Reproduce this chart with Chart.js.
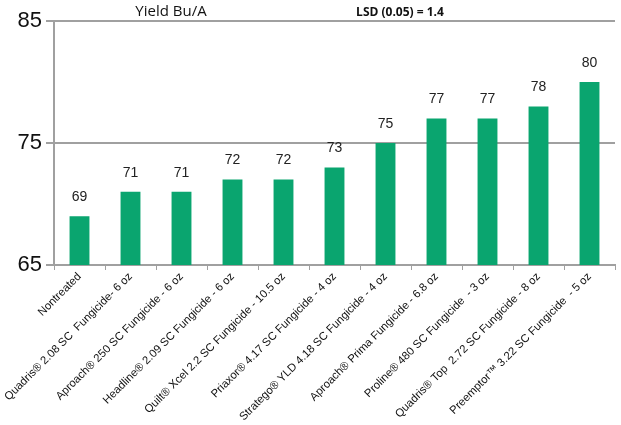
<!DOCTYPE html>
<html><head><meta charset="utf-8">
<script src="https://cdn.jsdelivr.net/npm/chart.js@4.4.0/dist/chart.umd.min.js"></script>
<style>html,body{margin:0;padding:0;background:#fff}#wrap{width:621px;height:425px}</style>
</head><body><div id="wrap"><canvas id="c"></canvas></div>
<script>
const categories = ["Nontreated","Quadris® 2.08 SC  Fungicide- 6 oz","Aproach® 250 SC Fungicide - 6 oz","Headline® 2.09 SC Fungicide - 6 oz","Quilt® Xcel 2.2 SC Fungicide - 10.5 oz","Priaxor® 4.17 SC Fungicide - 4 oz","Stratego® YLD 4.18 SC Fungicide - 4 oz","Aproach® Prima Fungicide - 6.8 oz","Proline® 480 SC Fungicide  - 3 oz","Quadris® Top  2.72 SC Fungicide - 8 oz","Preemptor™ 3.22 SC Fungicide  - 5 oz"];
const yieldValues = [69,71,71,72,72,73,75,77,77,78,80];
const yTicks = [65,75,85];
const titleText = "Yield Bu/A";
const lsdText = "LSD (0.05) = 1.4";

const labelPlugin = {
  id:'labels',
  afterDatasetsDraw(chart){
    const ctx = chart.ctx;
    const meta = chart.getDatasetMeta(0);
    ctx.save();
    ctx.font = '14px "Liberation Sans", sans-serif';
    ctx.fillStyle = '#222';
    ctx.textAlign = 'center';
    ctx.textBaseline = 'middle';
    meta.data.forEach((el,i)=>{
      ctx.fillText(String(yieldValues[i]), el.x, el.y - 19);
    });
    ctx.font = '15px "Open Sans", sans-serif';
    ctx.fillStyle = '#111';
    ctx.fillText(titleText, 171, 12);
    ctx.font = 'bold 12px "Open Sans", sans-serif';
    ctx.fillText(lsdText, 400, 13);
    ctx.restore();
  }
};

new Chart(document.getElementById('c'), {
  type:'bar',
  data:{labels:categories, datasets:[{data:yieldValues, backgroundColor:'#0aa56f', barPercentage:0.78, categoryPercentage:0.5}]},
  options:{
    responsive:true, maintainAspectRatio:false, animation:false,
    layout:{padding:{top:21,right:6,left:0,bottom:0}},
    plugins:{legend:{display:false}, tooltip:{enabled:false}},
    scales:{
      x:{
        grid:{drawOnChartArea:false, offset:true, tickLength:5, color:'#a0a0a0', lineWidth:1},
        border:{color:'#a0a0a0', width:2},
        ticks:{minRotation:45, maxRotation:45, autoSkip:false, color:'#111', font:{family:'"Liberation Sans", sans-serif', size:11.3}, padding:0},
        afterFit(s){ s.height = 160; }
      },
      y:{
        min:65, max:85,
        afterBuildTicks(s){ s.ticks = yTicks.map(v=>({value:v})); },
        grid:{color:'#a0a0a0', lineWidth:2, tickLength:8},
        border:{color:'#a0a0a0', width:2},
        ticks:{color:'#111', font:{family:'"Liberation Sans", sans-serif', size:22}, padding:4},
        afterFit(s){ s.width = 54; }
      }
    }
  },
  plugins:[labelPlugin]
});
</script></body></html>
